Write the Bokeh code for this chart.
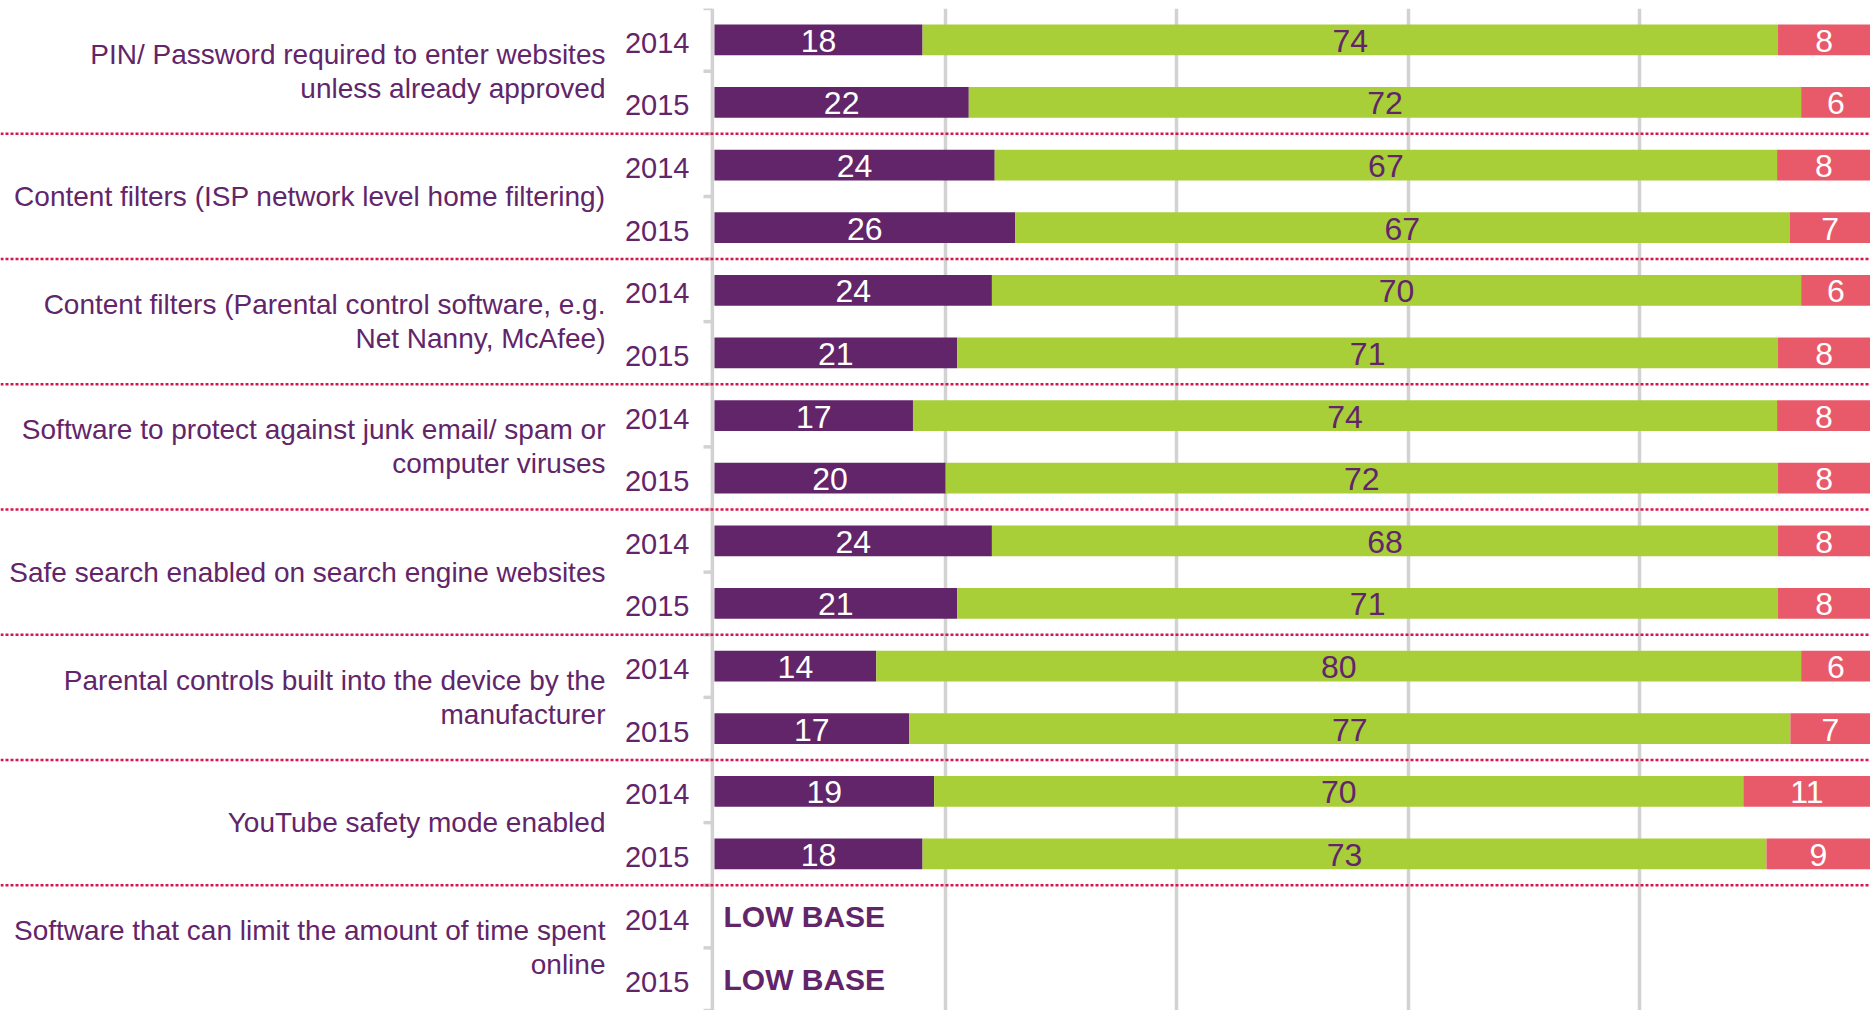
from bokeh.plotting import figure
from bokeh.models import ColumnDataSource, FactorRange, Range1d, Span, Grid, FixedTicker
from bokeh.core.properties import value
from bokeh.embed import file_html
from bokeh.resources import INLINE

# ---------------- data ----------------
categories = [
    "PIN/ Password required to enter websites unless already approved",
    "Content filters (ISP network level home filtering)",
    "Content filters (Parental control software, e.g. Net Nanny, McAfee)",
    "Software to protect against junk email/ spam or computer viruses",
    "Safe search enabled on search engine websites",
    "Parental controls built into the device by the manufacturer",
    "YouTube safety mode enabled",
    "Software that can limit the amount of time spent online",
]
category_labels = [
    "PIN/ Password required to enter websites\nunless already approved",
    "Content filters (ISP network level home filtering)",
    "Content filters (Parental control software, e.g.\nNet Nanny, McAfee)",
    "Software to protect against junk email/ spam or\ncomputer viruses",
    "Safe search enabled on search engine websites",
    "Parental controls built into the device by the\nmanufacturer",
    "YouTube safety mode enabled",
    "Software that can limit the amount of time spent\nonline",
]
years = ["2014", "2015"]

# rows in order: category x year (None = low base)
series_1 = [18, 22, 24, 26, 24, 21, 17, 20, 24, 21, 14, 17, 19, 18, None, None]
series_2 = [74, 72, 67, 67, 70, 71, 74, 72, 68, 71, 80, 77, 70, 73, None, None]
series_3 = [8, 6, 8, 7, 6, 8, 8, 8, 8, 8, 6, 7, 11, 9, None, None]
low_base_text = "LOW BASE"

# ---------------- styles ----------------
PURPLE = "#62256a"
GREEN = "#a8cf38"
RED = "#e85a6a"
DOT = "#d6164f"
GRIDC = "#d2d2d2"
FONT = value("Liberation Sans")

rows = [(c, y) for c in categories for y in years]
y_range = FactorRange(factors=list(reversed(rows)), factor_padding=0,
                      group_padding=0, subgroup_padding=0, range_padding=0)

p = figure(width=1870, height=1010, x_range=Range1d(-61.76, 100), y_range=y_range,
           output_backend="svg", toolbar_location=None,
           x_axis_location=None, y_axis_location=None,
           min_border=0, min_border_left=0, min_border_right=0,
           min_border_top=8, min_border_bottom=0)
p.outline_line_color = None
p.grid.visible = False
p.background_fill_color = "white"
p.border_fill_color = "white"

p.add_layout(Grid(dimension=0, ticker=FixedTicker(ticks=[20, 40, 60, 80]),
                  grid_line_color=GRIDC, grid_line_width=3.5, level="underlay"))

# axis line + ticks
p.add_layout(Span(location=-0.18, dimension="height", line_color=GRIDC,
                  line_width=3.5, level="underlay"))
n_rows = len(rows)
p.segment(x0=[-0.95] * (n_rows + 1), x1=[-0.18] * (n_rows + 1),
          y0=list(range(n_rows + 1)), y1=list(range(n_rows + 1)),
          line_color=GRIDC, line_width=3.5, level="underlay")

# group separators
for k in range(1, len(categories)):
    p.add_layout(Span(location=2 * k, dimension="width", line_color=DOT,
                      line_width=2.5, line_dash="3 2"))

# stacked bars (normalised shares so each row spans the full width)
data_rows = [i for i, v in enumerate(series_1) if v is not None]
seg_specs = [(series_1, PURPLE, "white"), (series_2, GREEN, PURPLE), (series_3, RED, "white")]
cum = {i: 0.0 for i in data_rows}
for vals, fill, tcol in seg_specs:
    left, right, ys, mids, labels = [], [], [], [], []
    for i in data_rows:
        total = series_1[i] + series_2[i] + series_3[i]
        share = vals[i] / total * 100
        l = cum[i]
        r = l + share
        cum[i] = r
        left.append(l)
        right.append(r)
        ys.append(rows[i])
        mids.append((l + r) / 2)
        labels.append(str(vals[i]))
    src = ColumnDataSource(dict(left=left, right=right, y=ys, mid=mids, label=labels))
    p.hbar(y="y", left="left", right="right", height=0.49, source=src,
           fill_color=fill, line_color=None)
    p.text(x="mid", y="y", text="label", source=src, text_align="center",
           text_baseline="middle", text_color=tcol, text_font=FONT,
           text_font_size="32px", y_offset=1)

# low base
lb_rows = [rows[i] for i, v in enumerate(series_1) if v is None]
p.text(x=[0] * len(lb_rows), y=lb_rows, text=[low_base_text] * len(lb_rows),
       x_offset=9, text_align="left", text_baseline="middle", text_color=PURPLE,
       text_font=FONT, text_font_size="30px", text_font_style="bold")

# year labels
p.text(x=[0] * n_rows, y=rows, text=[r[1] for r in rows], x_offset=-25,
       y_offset=3, text_align="right", text_baseline="middle", text_color=PURPLE,
       text_font=FONT, text_font_size="29px")

# category labels at group centre
cat_y = [(c, years[0], -0.5) for c in categories]
p.text(x=[0] * len(categories), y=cat_y, text=category_labels, x_offset=-109,
       text_align="right", text_baseline="middle", text_color=PURPLE,
       text_font=FONT, text_font_size="28px", text_line_height=1.1)

open("out.html", "w").write(file_html(p, INLINE))
